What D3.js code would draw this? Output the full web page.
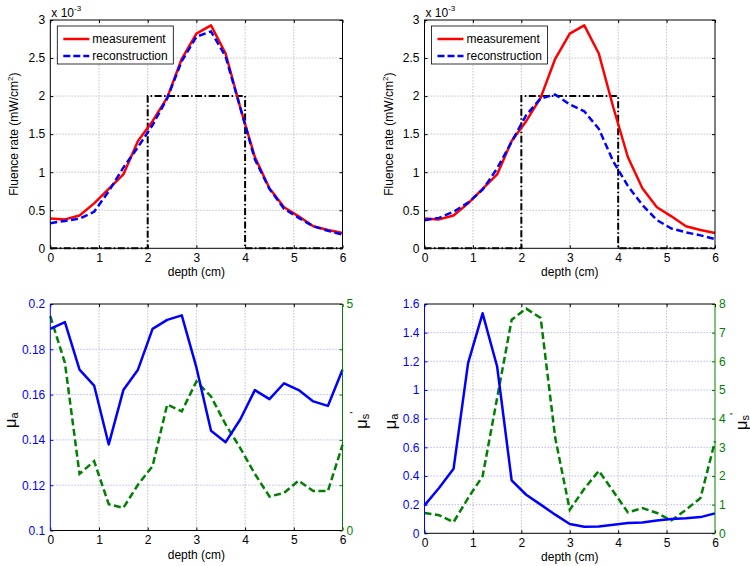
<!DOCTYPE html>
<html><head><meta charset="utf-8">
<script src="https://cdn.jsdelivr.net/npm/d3@7"></script>
<style>
body{margin:0;background:#fff}
svg{display:block;font-family:"Liberation Sans",Arial,Helvetica,sans-serif}
</style>
</head><body>
<svg id="chart" width="750" height="566"></svg>
<script>
// ---------- data ----------
const depth = [0,0.3,0.6,0.9,1.2,1.5,1.8,2.1,2.4,2.7,3.0,3.3,3.6,3.9,4.2,4.5,4.8,5.1,5.4,5.7,6.0];
// fluence rate (x 10^-3 mW/cm^2)
const measurement = [0.39,0.38,0.43,0.59,0.78,0.97,1.41,1.67,1.98,2.49,2.82,2.93,2.56,1.85,1.20,0.79,0.54,0.42,0.29,0.24,0.20];
const reconstructionLeft = [0.33,0.36,0.39,0.48,0.75,1.06,1.33,1.62,1.97,2.46,2.78,2.85,2.52,1.85,1.17,0.78,0.52,0.40,0.29,0.23,0.18];
const reconstructionRight = [0.37,0.40,0.48,0.60,0.77,1.05,1.40,1.75,1.97,2.02,1.89,1.80,1.57,1.14,0.82,0.57,0.37,0.26,0.21,0.17,0.12];
const trueDepth = [0,2,2,4,4,6];
const trueFluence = [0,0,2,2,0,0];
// optical properties
const muaLeft = [0.189,0.192,0.171,0.164,0.138,0.162,0.171,0.189,0.193,0.195,0.172,0.144,0.139,0.149,0.162,0.158,0.165,0.162,0.157,0.155,0.171];
const musLeft = [4.73,3.70,1.25,1.53,0.58,0.50,1.01,1.42,2.78,2.63,3.29,2.96,2.34,1.82,1.25,0.75,0.83,1.10,0.87,0.87,1.89];
const muaRight = [0.195,0.316,0.45,1.187,1.535,1.164,0.369,0.269,0.200,0.130,0.065,0.046,0.047,0.060,0.072,0.076,0.090,0.100,0.105,0.113,0.139];
const musRight = [0.71,0.63,0.39,1.23,1.99,4.72,7.45,7.84,7.51,3.33,0.82,1.55,2.18,1.46,0.73,0.88,0.71,0.45,0.82,1.23,3.21];
// tick labels
const depthTicks = [0,1,2,3,4,5,6];
const fluenceTicks = [0,0.5,1,1.5,2,2.5,3];
const muaTicksLeft = [0.1,0.12,0.14,0.16,0.18,0.2];
const musTicksLeft = [0,1,2,3,4,5];
const musLabelsLeft = [0,5];
const muaTicksRight = [0,0.2,0.4,0.6,0.8,1,1.2,1.4,1.6];
const musTicksRight = [0,1,2,3,4,5,6,7,8];
const legendLabels = ["measurement","reconstruction"];

// ---------- drawing ----------
const svg = d3.select("#chart");
const FS = 12;
const BLUE = "#0000ff", RED = "#ff0000", GREEN = "#008000";
const fmt = d => String(+d.toFixed(4));

function gridLines(g, x, y, xt, yt, box, xcol, ycol) {
  g.append("g").selectAll("line").data(xt.slice(1, -1)).join("line")
    .attr("x1", d => x(d)).attr("x2", d => x(d)).attr("y1", box.y0).attr("y2", box.y1)
    .attr("stroke", xcol).attr("stroke-width", 0.8).attr("stroke-dasharray", "1.5,1.5");
  g.append("g").selectAll("line").data(yt.slice(1, -1)).join("line")
    .attr("y1", d => y(d)).attr("y2", d => y(d)).attr("x1", box.x0).attr("x2", box.x1)
    .attr("stroke", ycol).attr("stroke-width", 0.8).attr("stroke-dasharray", "1.5,1.5");
}

function styleAxis(sel, color, labels) {
  sel.select(".domain").remove();
  sel.selectAll(".tick line").attr("stroke", color);
  sel.selectAll(".tick text").attr("fill", color).style("font-size", FS + "px")
    .style("font-family", '"Liberation Sans",Arial,sans-serif');
  if (labels) sel.selectAll(".tick text").text(d => labels.includes(d) ? fmt(d) : "");
}

function xAxes(g, x, box) {
  const b = g.append("g").attr("transform", `translate(0,${box.y1})`)
    .call(d3.axisBottom(x).tickValues(depthTicks).tickSize(-3).tickPadding(5).tickFormat(fmt));
  styleAxis(b, "#000");
  const t = g.append("g").attr("transform", `translate(0,${box.y0})`)
    .call(d3.axisTop(x).tickValues(depthTicks).tickSize(-3).tickFormat(""));
  styleAxis(t, "#000");
}

function xLabel(g, box, yy) {
  g.append("text").attr("x", (box.x0 + box.x1) / 2).attr("y", yy)
    .attr("text-anchor", "middle").style("font-size", FS + "px").text("depth (cm)");
}

function fluencePanel(box, recon) {
  const g = svg.append("g");
  const x = d3.scaleLinear().domain([0, 6]).range([box.x0, box.x1]);
  const y = d3.scaleLinear().domain([0, 3]).range([box.y1, box.y0]);
  gridLines(g, x, y, depthTicks, fluenceTicks, box, "#b4b4b4", "#b4b4b4");
  xAxes(g, x, box);
  const l = g.append("g").attr("transform", `translate(${box.x0},0)`)
    .call(d3.axisLeft(y).tickValues(fluenceTicks).tickSize(-3).tickPadding(5).tickFormat(fmt));
  styleAxis(l, "#000");
  const r = g.append("g").attr("transform", `translate(${box.x1},0)`)
    .call(d3.axisRight(y).tickValues(fluenceTicks).tickSize(-3).tickFormat(""));
  styleAxis(r, "#000");

  const line = d3.line().x(d => x(d[0])).y(d => y(d[1]));
  g.append("path").datum(trueDepth.map((d, i) => [d, trueFluence[i]]))
    .attr("d", line).attr("fill", "none").attr("stroke", "#000").attr("stroke-width", 2)
    .attr("stroke-dasharray", "7,2.5,1.5,2.5");
  g.append("path").datum(depth.map((d, i) => [d, measurement[i]]))
    .attr("d", line).attr("fill", "none").attr("stroke", RED).attr("stroke-width", 2.5)
    .attr("stroke-linejoin", "round");
  g.append("path").datum(depth.map((d, i) => [d, recon[i]]))
    .attr("d", line).attr("fill", "none").attr("stroke", BLUE).attr("stroke-width", 2.5)
    .attr("stroke-dasharray", "7,3.5");

  g.append("rect").attr("x", box.x0).attr("y", box.y0)
    .attr("width", box.x1 - box.x0).attr("height", box.y1 - box.y0)
    .attr("fill", "none").attr("stroke", "#000").attr("stroke-width", 1);

  // exponent
  const ex = g.append("text").attr("x", box.x0 + 1).attr("y", box.y0 - 3).style("font-size", FS + "px");
  ex.append("tspan").text("x 10");
  ex.append("tspan").attr("dy", -6).style("font-size", "8px").text("-3");

  // y label
  const yl = g.append("text")
    .attr("transform", `translate(${box.x0 - 32},${(box.y0 + box.y1) / 2}) rotate(-90)`)
    .attr("text-anchor", "middle").style("font-size", FS + "px");
  yl.append("tspan").text("Fluence rate (mW/cm");
  yl.append("tspan").attr("dy", -5).style("font-size", "8px").text("2");
  yl.append("tspan").attr("dy", 5).text(")");

  xLabel(g, box, box.y1 + 28);

  // legend
  const lg = g.append("g").attr("transform", `translate(${box.x0 + 7},${box.y0 + 6})`);
  lg.append("rect").attr("width", 116).attr("height", 38).attr("fill", "#fff")
    .attr("stroke", "#000").attr("stroke-width", 0.8);
  const styles = [{c: RED, d: null}, {c: BLUE, d: "7,3"}];
  legendLabels.forEach((t, i) => {
    const yy = 13 + i * 17;
    lg.append("line").attr("x1", 6).attr("x2", 32).attr("y1", yy).attr("y2", yy)
      .attr("stroke", styles[i].c).attr("stroke-width", 2.5)
      .attr("stroke-dasharray", styles[i].d);
    lg.append("text").attr("x", 35).attr("y", yy + 4).style("font-size", FS + "px").text(t);
  });
}

function propPanel(box, mua, mus, muaDom, muaT, musDom, musT, musLab, leftLblX, rightLblX) {
  const g = svg.append("g");
  const x = d3.scaleLinear().domain([0, 6]).range([box.x0, box.x1]);
  const y1 = d3.scaleLinear().domain(muaDom).range([box.y1, box.y0]);
  const y2 = d3.scaleLinear().domain(musDom).range([box.y1, box.y0]);
  gridLines(g, x, y1, depthTicks, muaT, box, "#b4b4b4", "#a8a8f4");
  xAxes(g, x, box);
  const l = g.append("g").attr("transform", `translate(${box.x0},0)`)
    .call(d3.axisLeft(y1).tickValues(muaT).tickSize(-3).tickPadding(5).tickFormat(fmt));
  styleAxis(l, BLUE);
  const r = g.append("g").attr("transform", `translate(${box.x1},0)`)
    .call(d3.axisRight(y2).tickValues(musT).tickSize(-3).tickPadding(4).tickFormat(fmt));
  styleAxis(r, GREEN, musLab);

  const line1 = d3.line().x((d, i) => x(depth[i])).y(d => y1(d));
  const line2 = d3.line().x((d, i) => x(depth[i])).y(d => y2(d));
  g.append("path").datum(mus).attr("d", line2).attr("fill", "none")
    .attr("stroke", GREEN).attr("stroke-width", 2.5).attr("stroke-dasharray", "7,3.5");
  g.append("path").datum(mua).attr("d", line1).attr("fill", "none")
    .attr("stroke", BLUE).attr("stroke-width", 2.5).attr("stroke-linejoin", "round");

  g.append("line").attr("x1", box.x0).attr("x2", box.x1).attr("y1", box.y0).attr("y2", box.y0)
    .attr("stroke", "#000");
  g.append("line").attr("x1", box.x0).attr("x2", box.x1).attr("y1", box.y1).attr("y2", box.y1)
    .attr("stroke", "#000");
  g.append("line").attr("x1", box.x0).attr("x2", box.x0).attr("y1", box.y0).attr("y2", box.y1)
    .attr("stroke", BLUE);
  g.append("line").attr("x1", box.x1).attr("x2", box.x1).attr("y1", box.y0).attr("y2", box.y1)
    .attr("stroke", GREEN);

  const cy = (box.y0 + box.y1) / 2 + 3;
  const a = g.append("text").attr("transform", `translate(${leftLblX},${cy}) rotate(-90)`)
    .attr("text-anchor", "middle").attr("dominant-baseline", "central").style("font-size", "17px");
  a.append("tspan").text("μ");
  a.append("tspan").attr("dy", 4).style("font-size", "11px").text("a");
  const s = g.append("text").attr("transform", `translate(${rightLblX},${cy}) rotate(-90)`)
    .attr("text-anchor", "middle").attr("dominant-baseline", "central").style("font-size", "17px");
  s.append("tspan").text("μ");
  s.append("tspan").attr("dy", 4).style("font-size", "11px").text("s");
  s.append("tspan").attr("dy", -11).style("font-size", "11px").text("'");

  xLabel(g, box, box.y1 + 28);
}

fluencePanel({x0: 50.3, x1: 342.5, y0: 20, y1: 248.3}, reconstructionLeft);
fluencePanel({x0: 424.5, x1: 715, y0: 20, y1: 248.3}, reconstructionRight);
propPanel({x0: 50.3, x1: 342.5, y0: 304, y1: 530.5}, muaLeft, musLeft,
  [0.1, 0.2], muaTicksLeft, [0, 5], musTicksLeft, musLabelsLeft, 10, 361);
propPanel({x0: 424.5, x1: 715, y0: 304, y1: 533.3}, muaRight, musRight,
  [0, 1.6], muaTicksRight, [0, 8], musTicksRight, musTicksRight, 390, 741);
</script>
</body></html>
